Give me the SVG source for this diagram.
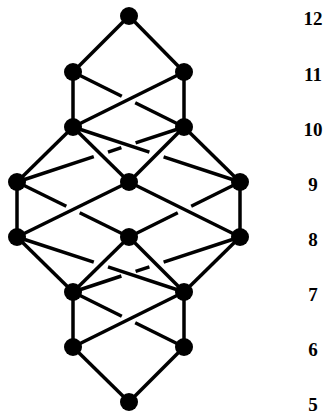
<svg xmlns="http://www.w3.org/2000/svg" width="323" height="416" viewBox="0 0 323 416">
<style>
.e{stroke:#000;stroke-width:3.5;fill:none;stroke-linecap:butt}
.n{fill:#000}
.t{font-family:"Liberation Serif","Times New Roman",serif;font-weight:bold;font-size:19px;fill:#000;text-anchor:middle}
</style>
<rect width="323" height="416" fill="#fff"/>
<g id="connectors">
<line class="e" x1="129" y1="16" x2="73" y2="72"/>
<line class="e" x1="129" y1="16" x2="184" y2="72"/>
<line class="e" x1="73" y1="72" x2="73" y2="127"/>
<line class="e" x1="184" y1="72" x2="184" y2="127"/>
<line class="e" x1="184" y1="72" x2="73" y2="127"/>
<line class="e" x1="73" y1="72" x2="121.8" y2="96.2"/>
<line class="e" x1="135.2" y1="102.8" x2="184" y2="127"/>
<line class="e" x1="73" y1="127" x2="17" y2="182"/>
<line class="e" x1="73" y1="127" x2="129" y2="182"/>
<line class="e" x1="184" y1="127" x2="129" y2="182"/>
<line class="e" x1="184" y1="127" x2="240" y2="182"/>
<line class="e" x1="73" y1="127" x2="149.4" y2="152.2"/>
<line class="e" x1="163.6" y1="156.8" x2="240" y2="182"/>
<line class="e" x1="184" y1="127" x2="135.6" y2="142.9"/>
<line class="e" x1="121.4" y1="147.6" x2="108" y2="152.1"/>
<line class="e" x1="93.8" y1="156.7" x2="17" y2="182"/>
<line class="e" x1="17" y1="182" x2="17" y2="237"/>
<line class="e" x1="240" y1="182" x2="240" y2="237"/>
<line class="e" x1="129" y1="182" x2="17" y2="237"/>
<line class="e" x1="129" y1="182" x2="240" y2="237"/>
<line class="e" x1="17" y1="182" x2="66.3" y2="206.2"/>
<line class="e" x1="79.7" y1="212.8" x2="129" y2="237"/>
<line class="e" x1="240" y1="182" x2="191.2" y2="206.2"/>
<line class="e" x1="177.8" y1="212.8" x2="129" y2="237"/>
<line class="e" x1="17" y1="237" x2="73" y2="292"/>
<line class="e" x1="129" y1="237" x2="73" y2="292"/>
<line class="e" x1="129" y1="237" x2="184" y2="292"/>
<line class="e" x1="240" y1="237" x2="184" y2="292"/>
<line class="e" x1="17" y1="237" x2="93.8" y2="262.2"/>
<line class="e" x1="108" y1="266.9" x2="184" y2="292"/>
<line class="e" x1="240" y1="237" x2="163.6" y2="262.2"/>
<line class="e" x1="149.4" y1="266.8" x2="135.6" y2="271.3"/>
<line class="e" x1="121.4" y1="276" x2="73" y2="292"/>
<line class="e" x1="73" y1="292" x2="73" y2="347"/>
<line class="e" x1="184" y1="292" x2="184" y2="347"/>
<line class="e" x1="184" y1="292" x2="73" y2="347"/>
<line class="e" x1="73" y1="292" x2="121.8" y2="316.2"/>
<line class="e" x1="135.2" y1="322.8" x2="184" y2="347"/>
<line class="e" x1="73" y1="347" x2="129" y2="402"/>
<line class="e" x1="184" y1="347" x2="129" y2="402"/>
</g>
<g id="n12"><circle class="n" cx="129" cy="16" r="9"/></g>
<g id="n11a"><circle class="n" cx="73" cy="72" r="9"/></g>
<g id="n11b"><circle class="n" cx="184" cy="72" r="9"/></g>
<g id="n10a"><circle class="n" cx="73" cy="127" r="9"/></g>
<g id="n10b"><circle class="n" cx="184" cy="127" r="9"/></g>
<g id="n9a"><circle class="n" cx="17" cy="182" r="9"/></g>
<g id="n9b"><circle class="n" cx="129" cy="182" r="9"/></g>
<g id="n9c"><circle class="n" cx="240" cy="182" r="9"/></g>
<g id="n8a"><circle class="n" cx="17" cy="237" r="9"/></g>
<g id="n8b"><circle class="n" cx="129" cy="237" r="9"/></g>
<g id="n8c"><circle class="n" cx="240" cy="237" r="9"/></g>
<g id="n7a"><circle class="n" cx="73" cy="292" r="9"/></g>
<g id="n7b"><circle class="n" cx="184" cy="292" r="9"/></g>
<g id="n6a"><circle class="n" cx="73" cy="347" r="9"/></g>
<g id="n6b"><circle class="n" cx="184" cy="347" r="9"/></g>
<g id="n5"><circle class="n" cx="129" cy="402" r="9"/></g>
<g id="labels">
<text class="t" x="313" y="24.5">12</text>
<text class="t" x="313" y="80.5">11</text>
<text class="t" x="313" y="135.5">10</text>
<text class="t" x="313" y="190.5">9</text>
<text class="t" x="313" y="245.5">8</text>
<text class="t" x="313" y="300.5">7</text>
<text class="t" x="313" y="355.5">6</text>
<text class="t" x="313" y="410.5">5</text>
</g>
</svg>
